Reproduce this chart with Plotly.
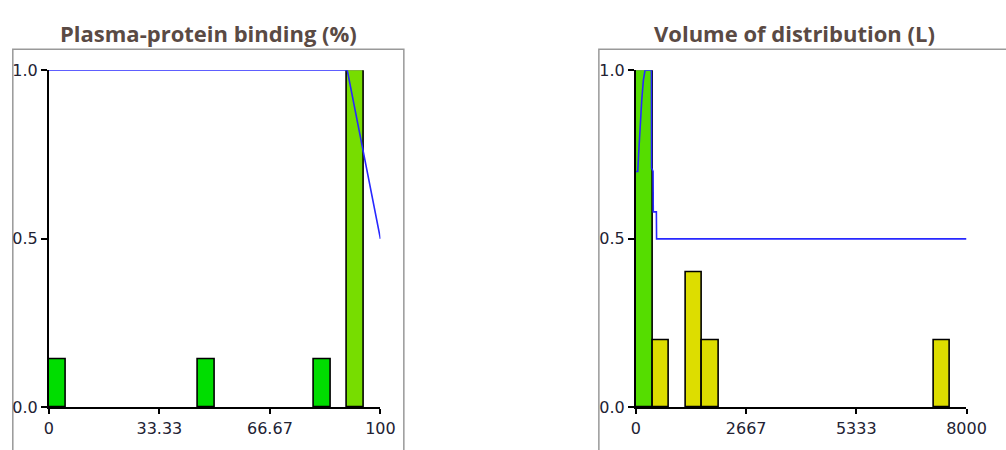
import plotly.graph_objects as go

W, H = 1006, 450

# ---- data: Plasma-protein binding (%) ----
ppb_bin_start = [0, 45, 80, 90]
ppb_bin_width = 5
ppb_heights = [0.143, 0.143, 0.143, 1.0]
ppb_colors = ["#00DD00", "#00DD00", "#00DD00", "#77DD00"]
ppb_line_x = [0, 90, 100]
ppb_line_y = [1.0, 1.0, 0.5]
ppb_ticks = [0, 33.33, 66.67, 100]
ppb_ticklabels = ["0", "33.33", "66.67", "100"]

# ---- data: Volume of distribution (L) ----
vd_bin_start = [0, 400, 1200, 1600, 7200]
vd_bin_width = 400
vd_heights = [1.0, 0.2, 0.4, 0.2, 0.2]
vd_colors = ["#55DD00", "#DDDD00", "#DDDD00", "#DDDD00", "#DDDD00"]
vd_line_x = [0, 45, 65, 100, 140, 180, 220, 335, 375, 380, 415, 420, 495, 500, 8000]
vd_line_y = [0.70, 0.70, 0.75, 0.83, 0.91, 0.97, 1.0, 1.0, 1.0, 0.71, 0.70, 0.58, 0.58, 0.50, 0.50]
vd_ticks = [0, 2667, 5333, 8000]
vd_ticklabels = ["0", "2667", "5333", "8000"]

y_ticks = [0.0, 0.5, 1.0]
y_ticklabels = ["0.0", "0.5", "1.0"]

titles = ["Plasma-protein binding (%)", "Volume of distribution (L)"]

fig = go.Figure()

def add_panel(starts, width, heights, colors, lx, ly, xa, ya):
    fig.add_trace(go.Bar(
        x=[s + width / 2 for s in starts], y=heights, width=width,
        marker=dict(color=colors, line=dict(color="black", width=1.6)),
        xaxis=xa, yaxis=ya, showlegend=False, hoverinfo="skip"))
    fig.add_trace(go.Scatter(
        x=lx, y=ly, mode="lines", line=dict(color="#2828ff", width=1.6),
        xaxis=xa, yaxis=ya, showlegend=False, cliponaxis=False, hoverinfo="skip"))

add_panel(ppb_bin_start, ppb_bin_width, ppb_heights, ppb_colors, ppb_line_x, ppb_line_y, "x", "y")
add_panel(vd_bin_start, vd_bin_width, vd_heights, vd_colors, vd_line_x, vd_line_y, "x2", "y2")

def px_x(p):
    return p / W

def px_y(p):
    return 1 - p / H

tickfont = dict(family="DejaVu Sans", size=16, color="#222233")
ydom = [px_y(416), px_y(64)]

common_x = dict(showline=True, linecolor="black", linewidth=2, ticks="outside",
                ticklen=5, tickwidth=1.5, tickcolor="black", showgrid=False,
                zeroline=False, tickfont=tickfont, tickmode="array", fixedrange=True)
common_y = dict(showline=True, linecolor="black", linewidth=2, ticks="outside",
                ticklen=6, tickwidth=1.5, tickcolor="black", showgrid=False,
                zeroline=False, tickfont=tickfont, tickmode="array",
                tickvals=y_ticks, ticktext=y_ticklabels, range=[0, 1.0], fixedrange=True)

fig.update_layout(
    width=W, height=H, autosize=False,
    margin=dict(l=0, r=0, t=0, b=0),
    paper_bgcolor="white", plot_bgcolor="white",
    bargap=0,
    xaxis=dict(domain=[px_x(45), px_x(385)], range=[0, 100], anchor="y",
               tickvals=ppb_ticks, ticktext=ppb_ticklabels, **common_x),
    yaxis=dict(domain=ydom, anchor="x", **common_y),
    xaxis2=dict(domain=[px_x(647), px_x(986)], range=[0, 8000], anchor="y2",
                tickvals=vd_ticks, ticktext=vd_ticklabels, **common_x),
    yaxis2=dict(domain=ydom, anchor="x2", **common_y),
)

# panel frames
frame = dict(type="rect", xref="paper", yref="paper",
             line=dict(color="#999999", width=1.5), fillcolor="rgba(0,0,0,0)", layer="below")
fig.add_shape(x0=px_x(8), x1=px_x(409), y0=-0.05, y1=px_y(42), **frame)
fig.add_shape(x0=px_x(609), x1=1.05, y0=-0.05, y1=px_y(42), **frame)

titlefont = dict(family="Open Sans", size=22, color="#5a4a44")
for t, cx in zip(titles, [209, 810]):
    fig.add_annotation(text="<b>%s</b>" % t, x=px_x(cx), y=px_y(25), xref="paper", yref="paper",
                       showarrow=False, font=titlefont, xanchor="center", yanchor="middle")

post = """
document.documentElement.style.margin='0';
document.documentElement.style.padding='0';
document.documentElement.style.overflow='hidden';
document.body.style.margin='0';
document.body.style.padding='0';
document.body.style.overflow='hidden';
"""
fig.write_html("out.html", post_script=post, config={"responsive": False, "displayModeBar": False})
